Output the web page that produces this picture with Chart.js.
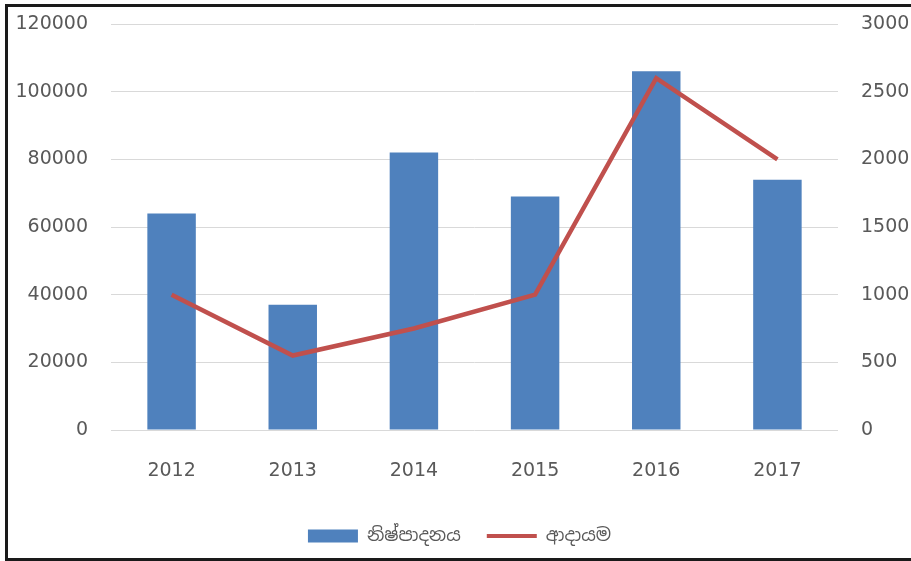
<!DOCTYPE html>
<html>
<head>
<meta charset="utf-8">
<script src="https://cdn.jsdelivr.net/npm/chart.js@4/dist/chart.umd.min.js"></script>
<style>
    html, body { margin: 0; padding: 0; background: #fff; overflow: hidden; width: 911px; height: 561px; }
    #frame { position: absolute; left: 5px; top: 4px; width: 910px; height: 551px; border: 3px solid #1a1a1a; background: #fff; }
    #chartBox { position: absolute; left: 0; top: 0; width: 903px; height: 551px; }
</style>
</head>
<body>
<div id="frame">
    <div id="chartBox"><canvas id="myChart"></canvas></div>
</div>
<script>
// values
var years = ['2012', '2013', '2014', '2015', '2016', '2017'];
var production = [64000, 37000, 82000, 69000, 106000, 74000];
var income = [1000, 550, 750, 1000, 2600, 2000];
var seriesNames = ['නිෂ්පාදනය', 'ආදායම'];

var textColor = '#595959';
var gridColor = '#d9d9d9';
var tickFont = { family: 'DejaVu Sans', size: 19 };

function plainNumber(value) {
    return String(value);
}

// fixed widths for the side axes, and no extra top/bottom padding from tick labels
function fixWidth(w) {
    return function (scale) {
        scale.width = w;
        scale.paddingTop = 0;
        scale.paddingBottom = 0;
    };
}

document.addEventListener('DOMContentLoaded', function () {
    var ctx = document.getElementById('myChart').getContext('2d');

    var myChart = new Chart(ctx, {
        type: 'bar',
        data: {
            labels: years,
            datasets: [{
                type: 'bar',
                label: seriesNames[0],
                data: production,
                backgroundColor: '#4f81bd',
                borderWidth: 0,
                yAxisID: 'y',
                order: 1,
                barPercentage: 0.4,
                categoryPercentage: 1
            }, {
                type: 'line',
                label: seriesNames[1],
                data: income,
                borderColor: '#c0504d',
                backgroundColor: '#c0504d',
                borderWidth: 4.5,
                pointRadius: 0,
                tension: 0,
                yAxisID: 'y1',
                order: 0
            }]
        },
        options: {
            responsive: true,
            maintainAspectRatio: false,
            animation: false,
            layout: {
                padding: { top: 17, bottom: 3, left: 0, right: 0 }
            },
            plugins: {
                tooltip: { enabled: false },
                legend: {
                    position: 'bottom',
                    labels: {
                        color: textColor,
                        font: { family: "'Noto Sans Sinhala', 'DejaVu Sans', sans-serif", size: 18 },
                        usePointStyle: true,
                        pointStyleWidth: 50,
                        boxHeight: 13,
                        padding: 26,
                        sort: function (a, b) { return a.datasetIndex - b.datasetIndex; },
                        generateLabels: function (chart) {
                            var items = Chart.defaults.plugins.legend.labels.generateLabels(chart);
                            items.forEach(function (item) {
                                if (item.datasetIndex === 0) {
                                    item.pointStyle = 'rect';
                                    item.lineWidth = 0;
                                } else {
                                    item.pointStyle = 'line';
                                    item.lineWidth = 4;
                                }
                            });
                            return items;
                        }
                    }
                }
            },
            scales: {
                x: {
                    grid: { display: false, drawTicks: false },
                    border: { display: false },
                    ticks: { color: textColor, font: tickFont, padding: 30 },
                    afterFit: function (scale) { scale.height = 71; }
                },
                y: {
                    position: 'left',
                    min: 0,
                    max: 120000,
                    grid: { color: gridColor, drawTicks: false, lineWidth: 1 },
                    border: { display: false },
                    ticks: { stepSize: 20000, color: textColor, font: tickFont, padding: 23, callback: plainNumber },
                    afterFit: fixWidth(103)
                },
                y1: {
                    position: 'right',
                    min: 0,
                    max: 3000,
                    grid: { drawOnChartArea: false, drawTicks: false },
                    border: { display: false },
                    ticks: { stepSize: 500, color: textColor, font: tickFont, padding: 23, callback: plainNumber },
                    afterFit: fixWidth(73)
                }
            }
        }
    });
});
</script>
</body>
</html>
